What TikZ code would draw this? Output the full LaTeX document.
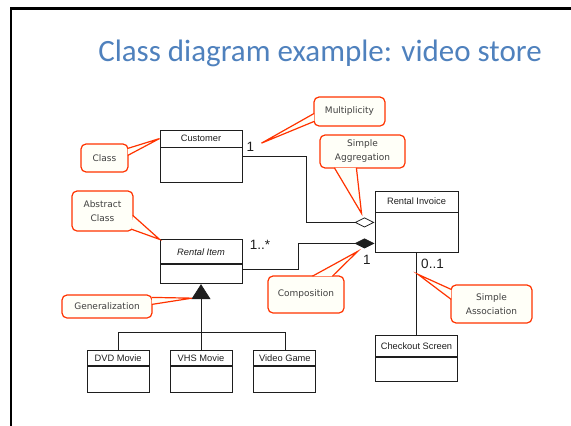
\documentclass[tikz,border=0pt]{standalone}
\usepackage{fontspec}
\setmainfont{Liberation Sans}
\newfontfamily\titlefont{Carlito}
\newfontfamily\notefont{DejaVu Sans}
\usetikzlibrary{arrows.meta, positioning, calc}

\definecolor{titleblue}{RGB}{79,129,189}
\definecolor{notered}{RGB}{255,51,0}
\definecolor{notefill}{RGB}{255,255,248}
\definecolor{ink}{RGB}{30,30,30}

\tikzset{
  cls/.style={draw=ink, line width=0.9pt, minimum width=82pt, inner sep=0pt, text=ink, font=\fontsize{9.3}{11}\selectfont},
  clsbody/.style={draw=ink, line width=0.9pt, minimum width=82pt, inner sep=0pt},
  note/.style={draw=notered, fill=notefill, line width=1.2pt, rounded corners=5pt, inner sep=0pt, align=center, text=ink!85, font=\notefont\fontsize{9}{14}\selectfont},
  mult/.style={inner sep=0pt, text=ink, font=\fontsize{13.5}{14}\selectfont},
  link/.style={draw=ink, line width=0.8pt},
}

% wedge of a note: tip, base, base
\newcommand{\notepointer}[3]{
  \fill[notefill] #2 -- #1 -- #3 -- cycle;
  \draw[notered, line width=1.2pt] #2 -- #1 -- #3;
}

\begin{document}
\begin{tikzpicture}[x=1pt, y=-1pt]
	\useasboundingbox (0,0) rectangle (571,426);
	% frame and title %
	\draw[line width=2.5pt] (11,430) -- (11,8.7) -- (575,8.7);
	\node[anchor=base, text=titleblue, font=\titlefont\fontsize{31}{36}\selectfont] (title) at (320,61.5) {Class diagram example: video store};

	% classes %
	\node[cls, minimum height=17pt] (cust) at (201,138.5) {Customer};
	\node[clsbody, minimum height=35pt, below=0pt of cust] (custb) {};
	\node[cls, minimum height=24pt, below=56pt of custb] (item) {\itshape Rental Item};
	\node[clsbody, minimum height=19pt, below=0pt of item] (itemb) {};
	\node[cls, minimum width=83pt, minimum height=21pt] (inv) at (416.5,201.5) {Rental Invoice};
	\node[clsbody, minimum width=83pt, minimum height=40pt, below=0pt of inv] (invb) {};
	\node[cls, minimum height=21pt, below=82pt of invb] (chk) {Checkout Screen};
	\node[clsbody, minimum height=24pt, below=0pt of chk] (chkb) {};

	\node[cls, minimum width=62pt, minimum height=15pt, below=66pt of itemb] (vhs) {VHS Movie};
	\node[clsbody, minimum width=62pt, minimum height=26pt, below=0pt of vhs] (vhsb) {};
	\node[cls, minimum width=62pt, minimum height=15pt, left=20pt of vhs] (dvd) {DVD Movie};
	\node[clsbody, minimum width=62pt, minimum height=26pt, below=0pt of dvd] (dvdb) {};
	\node[cls, minimum width=62pt, minimum height=15pt, right=21pt of vhs] (game) {Video Game};
	\node[clsbody, minimum width=62pt, minimum height=26pt, below=0pt of game] (gameb) {};

	% edges %
	\draw[link, -{Diamond[open, length=20pt, width=10pt]}] ($(custb.north east)+(0,9)$) -| ($(invb.north west)+(-68,10)$) -- ($(invb.north west)+(0,10)$);
	\draw[link, -{Diamond[length=20pt, width=10pt]}] ($(itemb.north east)+(0,5)$) -| ($(invb.north west)+(-76,31)$) -- ($(invb.north west)+(0,31)$);
	\coordinate (gen) at ($(vhs.north)+(0,-18)$);
	\draw[link] (dvd.north) |- (gen) -| (game.north);
	\draw[link, -{Triangle[length=15pt, width=19pt]}] (vhs.north) -- (itemb.south);
	\draw[link] (invb.south) -- (chk.north);

	% multiplicities %
	\node[mult] (m1) at (250.5,147) {1};
	\node[mult] (m2) at (260,245) {1..*};
	\node[mult] (m3) at (367,260) {1};
	\node[mult] (m4) at (432.5,264) {0..1};

	% notes %
	\node[note, minimum width=47pt, minimum height=28pt] (nclass) at (104.5,158) {Class};
	\notepointer{($(cust.north west)+(0,9)$)}{($(nclass.north east)+(-0.8,5)$)}{($(nclass.north east)+(-0.8,12)$)}
	\node[note, minimum width=71pt, minimum height=29pt] (nmult) at (349.5,111.5) {Multiplicity};
	\notepointer{($(m1.north east)+(7,1)$)}{($(nmult.north west)+(0.8,17)$)}{($(nmult.north west)+(0.8,25)$)}
	\node[note, minimum width=85pt, minimum height=33pt] (nagg) at (362.5,151.5) {Simple\\Aggregation};
	\notepointer{($(invb.north west)+(-13,1)$)}{($(nagg.south west)+(15,-0.8)$)}{($(nagg.south west)+(37,-0.8)$)}
	\node[note, minimum width=61pt, minimum height=40pt] (nabs) at (102.5,211) {Abstract\\Class};
	\notepointer{(item.north west)}{($(nabs.north east)+(-0.8,25)$)}{($(nabs.south east)+(-2.5,-2.5)$)}
	\node[note, minimum width=90pt, minimum height=23pt] (ngen) at (107,306.5) {Generalization};
	\notepointer{($(itemb.south)+(-9,14)$)}{($(ngen.north east)+(-0.8,3)$)}{($(ngen.north east)+(-0.8,10)$)}
	\node[note, minimum width=76pt, minimum height=37pt] (ncomp) at (306,294.5) {Composition};
	\notepointer{($(invb.north west)+(-17,39)$)}{($(ncomp.north west)+(45,0.8)$)}{($(ncomp.north west)+(65,0.8)$)}
	\node[note, minimum width=81pt, minimum height=38pt] (nsa) at (491.5,304) {Simple\\Association};
	\notepointer{($(invb.south)+(1.5,21)$)}{($(nsa.north west)+(0.8,5)$)}{($(nsa.north west)+(0.8,15)$)}
\end{tikzpicture}
\end{document}
